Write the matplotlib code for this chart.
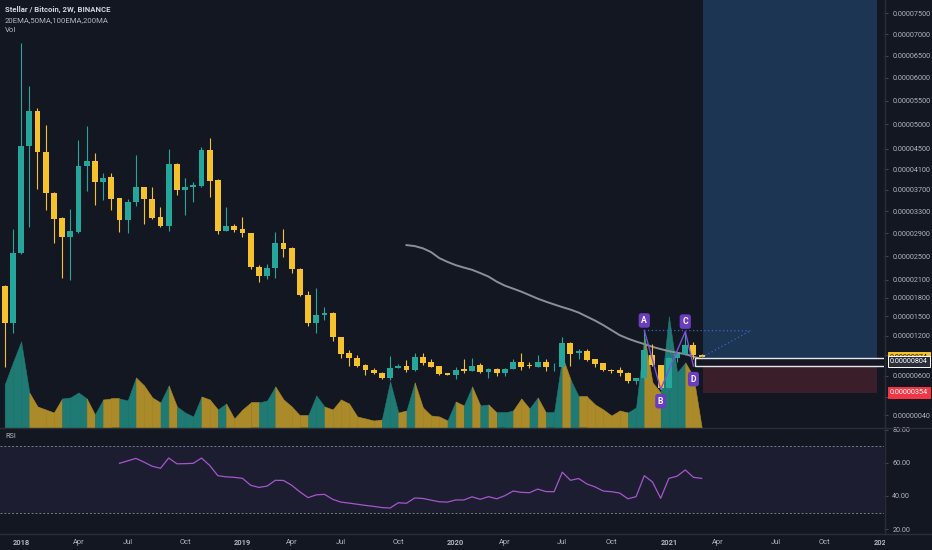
import matplotlib.pyplot as plt
import matplotlib.dates as mdates
from matplotlib.patches import Rectangle
from matplotlib.lines import Line2D
from matplotlib.transforms import Bbox, TransformedBbox, blended_transform_factory
import numpy as np
import pandas as pd

plt.rcParams['font.family'] = ['Roboto', 'DejaVu Sans']

# ---- data (prices in satoshi, 1e-8 BTC) ----
first_bar = '2017-12-04'   # 2W bars

opens  = [1992, 1400, 2546, 4555, 5285, 4441, 3632, 3170, 2827, 2930,
          4157, 4250, 3847, 3937, 3543, 3133, 3464, 3746, 3530, 3188,
          3029, 4201, 3694, 3746, 3778, 4475, 3885, 2947, 3029, 2977,
          2903, 2306, 2159, 2289, 2732, 2638, 2278, 1849, 1400, 1523,
          1559, 1173,  929,  860,  750,  681,  637,  560,  715,  740,
           681,  874,  800,  740,  633,  613,  691,  671,  750,  652,
           700,  633,  700,  800,  750,  730,  800,  735,  730, 1081,
           929,  969,  840,  780,  681,  681,  642,  526,  564,  900,
           750,  424,  855,  924, 1050,  900]
highs  = [2010, 2977, 6799, 5819, 5337, 4985, 3650, 3199, 3335, 4683,
          4968, 4414, 4015, 4015, 3550, 3530, 4386, 3750, 3746, 3371,
          4500, 4227, 3925, 3855, 4542, 4712, 3910, 3382, 3065, 3188,
          2913, 2340, 2362, 2925, 2971, 2665, 2289, 1916, 1954, 1645,
          1570, 1178,  979,  904,  770,  706,  652,  889,  770,  829,
           929,  938,  840,  745,  637,  730,  849,  855,  789,  710,
           710,  710,  840,  929,  805,  900,  840,  789, 1183, 1107,
           995, 1000,  852,  789,  695,  730,  652,  571, 1281, 1075,
           760,  880,  940, 1263, 1110,  915]
lows   = [ 730, 1235, 2530, 3017, 3709, 3321, 2722, 2121, 2093, 2908,
          3681, 3413, 3506, 3321, 2930, 2903, 3395, 3065, 3161, 3006,
          2937, 3606, 3229, 3475, 3746, 3569, 2891, 2940, 2925, 2827,
          2273, 2065, 2104, 2121, 2477, 2216, 1828, 1350, 1235, 1443,
          1122,  855,  740,  725,  608,  622,  545,  536,  710,  656,
           671,  750,  725,  613,  608,  554,  642,  666,  645,  564,
           594,  598,  695,  681,  710,  725,  671,  662,  725,  740,
           840,  814,  730,  662,  645,  594,  489,  479,  550,  740,
           404,  415,  800,  900,  849,  860]
closes = [1396, 2546, 4555, 5285, 4441, 3632, 3161, 2827, 2942, 4157,
          4250, 3847, 3930, 3530, 3133, 3469, 3746, 3530, 3175, 3029,
          4201, 3694, 3746, 3790, 4475, 3864, 2947, 3029, 2959, 2903,
          2306, 2159, 2289, 2722, 2631, 2273, 1844, 1400, 1523, 1559,
          1173,  914,  855,  740,  681,  637,  560,  715,  735,  681,
           874,  789,  730,  627,  613,  686,  662,  740,  652,  700,
           633,  700,  795,  730,  735,  800,  730,  745, 1090,  919,
           969,  829,  770,  681,  662,  633,  526,  564,  988,  750,
           420,  865,  924, 1060,  900,  874]
volumes = [43, 65, 86, 35, 21, 18, 15, 29, 30, 35,
           29, 13, 28, 29, 29, 27, 50, 42, 30, 25,
           42, 21, 15, 11, 31, 28, 18, 24,  9, 18,
           25, 25, 27, 41, 28, 21, 12, 12, 32, 21,
           18, 28, 24, 11,  9,  7,  8, 46, 15, 17,
           45, 20, 12, 11,  7, 26, 22, 41, 22, 23,
           15, 15, 17, 29, 19, 30, 15, 15, 71, 48,
           31, 31, 23, 18, 12, 17, 15, 20, 91, 45,
           35, 111, 55, 65, 51,  0]
# RSI(14), first value on bar 15
rsi = [59.8, 61.3, 62.8, 60.5, 58.0, 56.8, 63.0, 59.5, 59.6, 59.8,
       63.0, 58.5, 52.3, 51.6, 51.3, 50.7, 46.5, 45.2, 46.0, 49.5,
       49.4, 46.5, 42.5, 39.0, 40.7, 41.0, 38.0, 36.3, 35.7, 35.0,
       34.3, 33.7, 33.0, 32.7, 35.9, 35.6, 38.8, 38.5, 37.5, 36.5,
       36.3, 37.6, 37.6, 39.5, 38.0, 39.6, 38.3, 40.2, 43.0, 42.2,
       42.0, 44.2, 42.7, 42.6, 54.4, 49.5, 50.6, 47.3, 45.5, 43.0,
       42.6, 41.8, 38.3, 39.6, 52.3, 48.5, 38.6, 50.7, 52.0, 55.8,
       51.3, 50.7]
# grey moving average, first value on bar 50
ma_line = [2691, 2674, 2635, 2569, 2465, 2400, 2345, 2303, 2265, 2210,
           2151, 2067, 2000, 1951, 1901, 1844, 1787, 1738, 1693, 1650,
           1610, 1562, 1498, 1435, 1364, 1286, 1208, 1155, 1110, 1071,
           1029,  995,  964,  940,  919,  882,  845]

abcd_names = ['A', 'B', 'C', 'D']
abcd_bars = [79, 81, 84, 85]
abcd_prices = [1281, 404, 1263, 740]

entry_price = 804
stop_price = 354
target_price = 9000
last_price = 874
box_low, box_high = 742, 866

price_ticks = [7500, 7000, 6500, 6000, 5500, 5000, 4500, 4100, 3700, 3300,
               2900, 2500, 2100, 1800, 1500, 1200, 900, 600, 300, 40]
rsi_ticks = [80, 60, 40, 20]

# ---- style ----
BG = '#131722'
UP = '#26a69a'
DN = '#f5c22e'
VUP = '#1f7a73'
VDN = '#ab8a2a'
TXT = '#b2b5be'
GRID = '#2a2e39'
W, H = 932, 550
OFFS = 9730.0


def fwd(p):
    return np.log(np.asarray(p, dtype=float) + OFFS)


def inv(v):
    return np.exp(v) - OFFS


fig = plt.figure(figsize=(W / 100, H / 100), dpi=100, facecolor=BG)


def pane(l, t, r, b, **kw):
    return fig.add_axes([l / W, 1 - b / H, (r - l) / W, (b - t) / H], **kw)


axv = pane(0, 0, 884, 427.5)
axv.set_facecolor(BG)
ax = pane(0, 0, 884, 427.5, sharex=axv)
ax.set_facecolor('none')
axr = pane(0, 427.5, 884, 533.3, sharex=axv)
axr.set_facecolor(BG)

n = len(opens)
x = mdates.date2num(pd.date_range(first_bar, periods=n, freq='14D'))
cols = [UP if c >= o else DN for o, c in zip(opens, closes)]

# volume area, each segment coloured by the bar it ends on
for i in range(1, n):
    vc = VUP if closes[i] >= opens[i] else VDN
    axv.fill_between(x[i - 1:i + 1], volumes[i - 1:i + 1], 0, color=vc,
                     lw=0.4, ec=vc)
axv.set_ylim(0, max(volumes) * 3.85)

# price pane
ax.set_yscale('function', functions=(fwd, inv))
ax.set_ylim(-129, 7827)

pos_x0 = x[-1] + 2
pos_w = 298
ax.add_patch(Rectangle((pos_x0, entry_price), pos_w, target_price - entry_price,
                       fc='#1c3553', ec='none', zorder=0.5))
ax.add_patch(Rectangle((pos_x0, stop_price), pos_w, entry_price - stop_price,
                       fc='#3a1f2b', ec='none', zorder=0.5))

ax.plot(x[49:], ma_line, color='#8d8f97', lw=1.4, zorder=2)

ax.add_patch(Rectangle((x[84] + 2.5, box_low), 400, box_high - box_low,
                       fc=BG, alpha=0.9, ec='none', zorder=2.4))
ax.add_patch(Rectangle((x[84] + 2.5, box_low), 400, box_high - box_low,
                       fc='none', ec='#e8e8ec', lw=1.0, zorder=2.5))

ax.vlines(x, lows, highs, colors=cols, lw=0.8, zorder=3)
body_lo = [min(o, c) for o, c in zip(opens, closes)]
body_h = [max(abs(c - o), 12) for o, c in zip(opens, closes)]
ax.bar(x, body_h, bottom=body_lo, width=10.2, color=cols, lw=0, zorder=3.2)

# ABCD pattern
abx = [x[b - 1] for b in abcd_bars]
ax.plot(abx, abcd_prices, color='#7c53d8', lw=1.0, zorder=4)
proj_x = x[-1] + 83
proj_p = 1275
ax.plot([abx[0], proj_x], [abcd_prices[0], proj_p], color='#3f63c8', lw=0.9,
        ls=(0, (1, 2)), zorder=4)
ax.plot([x[-1], proj_x], [870, proj_p], color='#3f63c8', lw=0.9,
        ls=(0, (1, 2)), zorder=4)
offsets = [10, -12, 10, -13]
for name, bx, bp, off in zip(abcd_names, abx, abcd_prices, offsets):
    ax.annotate(name, (bx, bp), xytext=(0, off), textcoords='offset pixels',
                ha='center', va='center', fontsize=6.2, color='white',
                fontweight='bold', zorder=6,
                bbox=dict(boxstyle='round,pad=0.32,rounding_size=0.3',
                          fc='#6a3cc0', ec='none'))

ax.set_yticks(price_ticks)
ax.set_yticklabels(['0.%08d' % v for v in price_ticks])
ax.yaxis.tick_right()
ax.tick_params(axis='y', colors='#4c525e', labelcolor=TXT, labelsize=5.2,
               length=3, width=0.6, pad=3)
ax.tick_params(axis='x', bottom=False, labelbottom=False)
axv.tick_params(left=False, labelleft=False, bottom=False, labelbottom=False)

# price tags on the scale
tag_tr = blended_transform_factory(ax.transAxes, ax.transData)
tags = [(last_price, '#f5c22e', '#131722', '#f5c22e', 19),
        (entry_price, '#2a2e39', 'white', 'white', 20),
        (stop_price, '#f23645', 'white', '#f23645', 20)]
for p, fc, tc, ec, z in tags:
    ax.text(1.0065, p, '0.%08d' % p, transform=tag_tr, ha='left', va='center',
            fontsize=5.2, color=tc, clip_on=False, zorder=z,
            bbox=dict(boxstyle='square,pad=0.28', fc=fc, ec=ec, lw=0.7))

# RSI pane
rsi_x = x[n - len(rsi):]
axr.axhspan(30, 70, color='#7e57c2', alpha=0.1, lw=0)
axr.axhline(70, color='#787b86', lw=0.7, ls=(0, (2, 2)))
axr.axhline(30, color='#787b86', lw=0.7, ls=(0, (2, 2)))
axr.plot(rsi_x, rsi, color='#a457c9', lw=0.9)
axr.set_ylim(17.4, 81.5)
axr.set_yticks(rsi_ticks)
axr.set_yticklabels(['%.2f' % v for v in rsi_ticks])
axr.yaxis.tick_right()
axr.tick_params(axis='y', colors='#4c525e', labelcolor=TXT, labelsize=5.2,
                length=3, width=0.6, pad=3)

# time axis: label at first bar of each quarter month
grid_bars = pd.date_range(first_bar, periods=120, freq='14D')
tick_x, tick_lab = [], []
for yr in range(2018, 2023):
    for mo, lab in [(1, str(yr)), (4, 'Apr'), (7, 'Jul'), (10, 'Oct')]:
        if yr == 2022 and mo > 1:
            continue
        first = grid_bars[grid_bars >= pd.Timestamp(yr, mo, 1)][0]
        tick_x.append(mdates.date2num(first))
        tick_lab.append(lab)
axr.set_xticks(tick_x)
axr.set_xticklabels(tick_lab)
axr.tick_params(axis='x', colors='#4c525e', labelcolor=TXT, labelsize=5.4,
                length=0, pad=4)
clip = TransformedBbox(Bbox.from_extents(0, 0, 884.5 / W, 1), fig.transFigure)
for t, lab in zip(axr.xaxis.get_major_ticks(), tick_lab):
    if lab.isdigit():
        t.label1.set_fontweight('bold')
    t.label1.set_clip_box(clip)
    t.label1.set_clip_on(True)

left = x[0] - 4.7 / 0.5857
axv.set_xlim(left, left + 884 / 0.5857)

for a in (ax, axv, axr):
    for s in a.spines.values():
        s.set_visible(False)

# pane separators and scale border
fig.add_artist(Line2D([0, 1], [1 - 427.5 / H] * 2, color=GRID, lw=1))
fig.add_artist(Line2D([0, 1], [1 - 533.5 / H] * 2, color=GRID, lw=1))
fig.add_artist(Line2D([884.5 / W] * 2, [1 - 533.5 / H, 1], color=GRID, lw=1))

# legend texts
fig.text(5 / W, 1 - 9.5 / H, 'Stellar / Bitcoin, 2W, BINANCE', fontsize=5.6,
         color='#d1d4dc', fontweight='bold', va='center')
fig.text(5 / W, 1 - 20 / H, '20EMA,50MA,100EMA,200MA', fontsize=5.6,
         color=TXT, va='center')
fig.text(5 / W, 1 - 30 / H, 'Vol', fontsize=5.6, color=TXT, va='center')
fig.text(5 / W, 1 - 437 / H, 'RSI', fontsize=5.2, color=TXT, va='center')

fig.savefig('out.png', dpi=100, facecolor=BG)
